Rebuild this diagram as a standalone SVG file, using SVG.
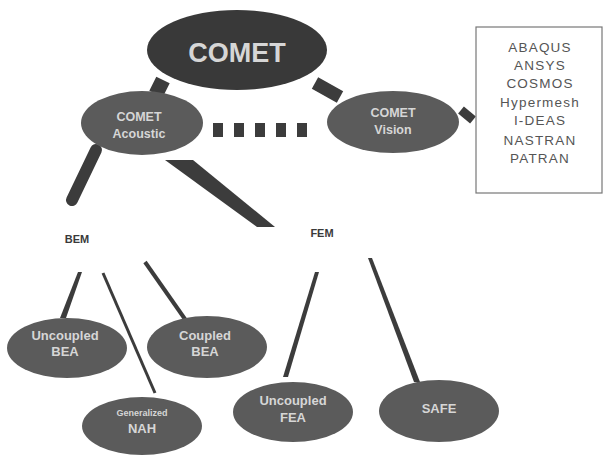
<svg xmlns="http://www.w3.org/2000/svg" width="604" height="457" viewBox="0 0 604 457">
<style>
.node{fill:#5b5b5b}
.root{fill:#393939}
.lbl{font-family:"Liberation Sans",Arial,sans-serif;font-weight:bold;fill:#d6d6d6;text-anchor:middle}
.bar{stroke:#3c3c3c;fill:none}
.txt{font-family:"Liberation Sans",Arial,sans-serif;fill:#3a3a3a;text-anchor:middle}
.list{font-family:"Liberation Sans",Arial,sans-serif;fill:#555;text-anchor:middle;font-size:13.5px;letter-spacing:1.2px}
</style>
<rect width="604" height="457" fill="#ffffff"/>
<g id="connectors">
<line class="bar" x1="156" y1="94" x2="163" y2="80" stroke-width="15"/>
<line class="bar" x1="315" y1="83" x2="340" y2="97" stroke-width="13"/>
<line class="bar" x1="213" y1="130" x2="312" y2="130" stroke-width="14" stroke-dasharray="10 11"/>
<line class="bar" x1="461" y1="110" x2="473" y2="120" stroke-width="9"/>
<line class="bar" x1="96" y1="150" x2="72" y2="200" stroke-width="12" stroke-linecap="round"/>
<polygon points="165,160 193,160 275,227 257,227" fill="#3c3c3c"/>
<polygon points="78,272 82,272 66,318 60,318" fill="#3c3c3c"/>
<line class="bar" x1="103" y1="273" x2="155" y2="393" stroke-width="3"/>
<line class="bar" x1="145" y1="262" x2="187" y2="322" stroke-width="4"/>
<polygon points="315,272 319,272 288,377 283,377" fill="#3c3c3c"/>
<polygon points="368,258 372,258 420,382 414,382" fill="#3c3c3c"/>
</g>
<g id="comet">
<ellipse class="root" cx="237" cy="50" rx="90" ry="40"/>
<text class="lbl" x="237" y="62" font-size="27">COMET</text>
</g>
<g id="comet-acoustic">
<ellipse class="node" cx="142" cy="123" rx="61" ry="32"/>
<text class="lbl" x="139" y="121" font-size="12.5">COMET</text>
<text class="lbl" x="139" y="138" font-size="12.5">Acoustic</text>
</g>
<g id="comet-vision">
<ellipse class="node" cx="393" cy="122" rx="66" ry="31"/>
<text class="lbl" x="393" y="117" font-size="12.5">COMET</text>
<text class="lbl" x="393" y="134" font-size="12.5">Vision</text>
</g>
<g id="tools">
<rect x="476" y="27" width="126" height="166" fill="#ffffff" stroke="#777" stroke-width="1.2"/>
<text class="list" x="540" y="52">ABAQUS</text>
<text class="list" x="540" y="70">ANSYS</text>
<text class="list" x="540" y="88">COSMOS</text>
<text class="list" x="540" y="107">Hypermesh</text>
<text class="list" x="540" y="125">I-DEAS</text>
<text class="list" x="540" y="145">NASTRAN</text>
<text class="list" x="540" y="163">PATRAN</text>
</g>
<g id="bem">
<text class="txt" x="77" y="243" font-size="11" font-weight="bold">BEM</text>
</g>
<g id="fem">
<text class="txt" x="322" y="237" font-size="11" font-weight="bold">FEM</text>
</g>
<g id="uncoupled-bea">
<ellipse class="node" cx="67" cy="348" rx="60" ry="30"/>
<text class="lbl" x="65" y="340" font-size="13">Uncoupled</text>
<text class="lbl" x="65" y="356" font-size="13">BEA</text>
</g>
<g id="coupled-bea">
<ellipse class="node" cx="207" cy="347" rx="60" ry="31"/>
<text class="lbl" x="205" y="340" font-size="13">Coupled</text>
<text class="lbl" x="205" y="356" font-size="13">BEA</text>
</g>
<g id="generalized-nah">
<ellipse class="node" cx="142" cy="426" rx="60" ry="29"/>
<text class="lbl" x="142" y="416" font-size="9">Generalized</text>
<text class="lbl" x="142" y="433" font-size="13">NAH</text>
</g>
<g id="uncoupled-fea">
<ellipse class="node" cx="293" cy="412" rx="60" ry="30"/>
<text class="lbl" x="293" y="405" font-size="13">Uncoupled</text>
<text class="lbl" x="293" y="422" font-size="13">FEA</text>
</g>
<g id="safe">
<ellipse class="node" cx="439" cy="411" rx="60" ry="31"/>
<text class="lbl" x="439" y="413" font-size="13">SAFE</text>
</g>
</svg>
